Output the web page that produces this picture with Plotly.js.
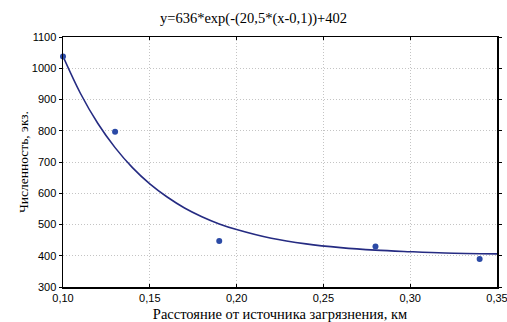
<!DOCTYPE html>
<html><head><meta charset="utf-8">
<script src="https://cdn.plot.ly/plotly-3.0.1.min.js"></script>
<style>html,body{margin:0;padding:0;background:#fff}#c{width:507px;height:322px}</style>
</head><body><div id="c"></div>
<script>
const pointX = [0.10, 0.13, 0.19, 0.28, 0.34];
const pointY = [1038, 797, 447, 430, 390];
const curveX = [0.10, 0.11, 0.12, 0.13, 0.14, 0.15, 0.16, 0.17, 0.18, 0.19, 0.20, 0.22, 0.24, 0.26, 0.28, 0.30, 0.32, 0.35];
const curveY = [1038, 920, 824, 746, 682, 630, 588, 553, 525, 502, 484, 456, 438, 426, 418, 413, 409, 406];
const xTicks = [0.10, 0.15, 0.20, 0.25, 0.30, 0.35];
const xTickText = ["0,10", "0,15", "0,20", "0,25", "0,30", "0,35"];
const titleText = "y=636*exp(-(20,5*(x-0,1))+402";
const xTitle = "Расстояние от источника загрязнения, км";
const yTitle = "Численность, экз.";

const serif = '"Liberation Serif", "Times New Roman", serif';
const sans = '"Liberation Sans", Arial, sans-serif';
const traces = [
  {x: curveX, y: curveY, mode: 'lines', line: {color: '#252b82', width: 1.6, shape: 'spline'}, hoverinfo: 'skip'},
  {x: pointX, y: pointY, mode: 'markers', marker: {color: '#2b4aa6', size: 6}, cliponaxis: false}
];
const layout = {
  width: 507, height: 322,
  margin: {l: 63, r: 10, t: 37, b: 35},
  paper_bgcolor: '#fff', plot_bgcolor: '#fff',
  showlegend: false,
  title: {text: titleText, x: 0.5, xanchor: 'center', y: 0.945, yanchor: 'middle',
          font: {family: serif, size: 14.5, color: '#000'}},
  xaxis: {range: [0.10, 0.35], tickvals: xTicks, ticktext: xTickText,
          showgrid: true, gridcolor: '#c4c4c4', griddash: '1px,2px', gridwidth: 1,
          showline: true, linecolor: '#000', linewidth: 1.5, mirror: 'ticks',
          ticks: 'inside', ticklen: 3, tickcolor: '#000', ticklabeloverflow: 'allow',
          tickfont: {family: sans, size: 11, color: '#000'},
          zeroline: false,
          title: {text: xTitle, standoff: 8,
                  font: {family: serif, size: 14.5, color: '#000'}}},
  yaxis: {range: [300, 1100], dtick: 100,
          showgrid: true, gridcolor: '#c4c4c4', griddash: '1px,2px', gridwidth: 1,
          showline: true, linecolor: '#000', linewidth: 1.5, mirror: 'ticks',
          ticks: 'outside', ticklen: 3, tickcolor: '#000',
          tickfont: {family: sans, size: 11, color: '#000'},
          zeroline: false,
          title: {text: yTitle, standoff: 0,
                  font: {family: serif, size: 13.5, color: '#000'}}}
};
Plotly.newPlot('c', traces, layout, {displayModeBar: false, staticPlot: true});
</script></body></html>
